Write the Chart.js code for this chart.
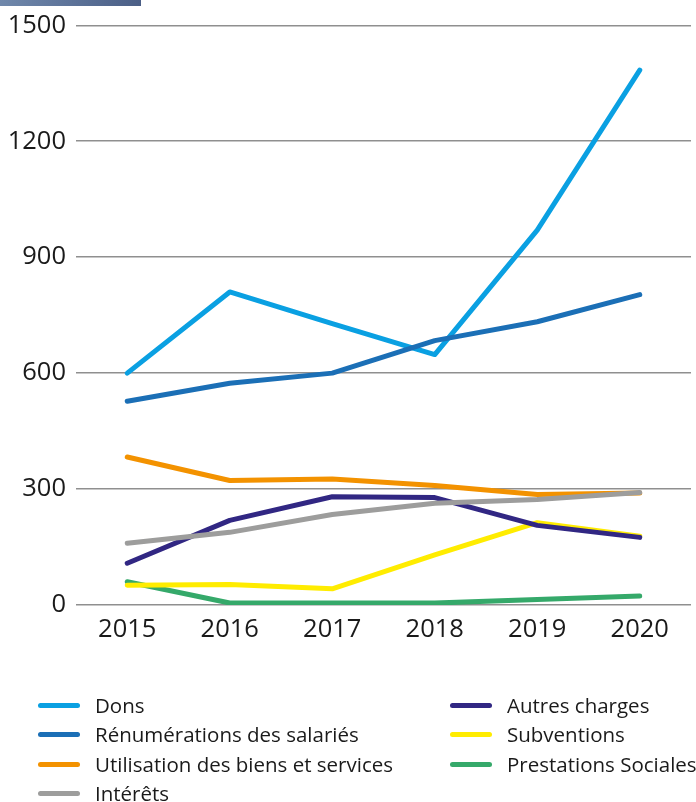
<!DOCTYPE html>
<html>
<head>
<meta charset="utf-8">
<script src="https://cdn.jsdelivr.net/npm/chart.js@4/dist/chart.umd.min.js"></script>
<style>
  html, body { margin: 0; padding: 0; background: #fff; }
  #wrap { position: relative; width: 696px; height: 802px; overflow: hidden; }
  #topbar { position: absolute; left: 0; top: 0; width: 141px; height: 6px;
            background: linear-gradient(90deg, #7088ab 0%, #5d7399 50%, #4b5f86 100%); z-index: 2; }
  #chartBox { position: absolute; left: 0; top: 0; width: 696px; height: 655px; }
  #legend { position: absolute; left: 0; top: 0; width: 696px; height: 802px; pointer-events: none;
            font-family: "Open Sans", "Noto Sans", sans-serif; font-size: 20.5px; color: #1a1a1a; }
  .li { position: absolute; display: flex; align-items: center; white-space: nowrap; }
  .sw { display: inline-block; width: 42px; height: 5px; border-radius: 3px; margin-right: 15px; }
</style>
</head>
<body>
<div id="wrap">
  <div id="chartBox"><canvas id="c" width="696" height="655"></canvas></div>
  <div id="topbar"></div>
  <div id="legend"></div>
</div>
<script>
const years = ["2015", "2016", "2017", "2018", "2019", "2020"];
const yTicks = [0, 300, 600, 900, 1200, 1500];

const seriesNames = [
  "Dons",
  "Rénumérations des salariés",
  "Utilisation des biens et services",
  "Intérêts",
  "Autres charges",
  "Subventions",
  "Prestations Sociales"
];

const dons          = [600, 810, 728, 648, 970, 1384];
const remunerations = [527, 574, 600, 684, 733, 803];
const utilisation   = [383, 322, 326, 309, 286, 290];
const interets      = [160, 188, 234, 263, 273, 291];
const autresCharges = [108, 219, 280, 278, 206, 175];
const subventions   = [51, 53, 42, 130, 213, 178];
const prestations   = [60, 5, 5, 5, 14, 23];

const seriesValues = [dons, remunerations, utilisation, interets, autresCharges, subventions, prestations];
const seriesColors = ["#0aa0e2", "#1b6fb6", "#f39200", "#9d9d9c", "#312783", "#ffec00", "#35a96a"];
const drawOrder    = [2, 1, 4, 3, 5, 6, 7];

const datasets = seriesNames.map((n, i) => ({
  label: n,
  data: seriesValues[i],
  borderColor: seriesColors[i],
  backgroundColor: seriesColors[i],
  borderWidth: 5,
  pointRadius: 0,
  tension: 0,
  fill: false,
  borderCapStyle: "round",
  borderJoinStyle: "round",
  order: drawOrder[i]
}));

const FONT = "'Open Sans', 'Noto Sans', sans-serif";

new Chart(document.getElementById("c"), {
  type: "line",
  data: { labels: years, datasets },
  options: {
    responsive: false,
    animation: false,
    events: [],
    layout: { padding: { top: 20, right: 5, left: 0, bottom: 0 } },
    plugins: { legend: { display: false }, tooltip: { enabled: false } },
    scales: {
      x: {
        offset: true,
        grid: { display: false, drawTicks: false },
        border: { display: false },
        ticks: { color: "#1a1a1a", padding: 9, font: { family: FONT, size: 25.5 } },
        afterFit: s => { s.height = 50; }
      },
      y: {
        min: 0, max: 1500,
        afterBuildTicks: s => { s.ticks = yTicks.map(v => ({ value: v })); },
        grid: { color: "#8f8f8f", lineWidth: 1.5, drawTicks: false },
        border: { display: false },
        ticks: { color: "#1a1a1a", padding: 10, font: { family: FONT, size: 25.5 },
                 callback: v => String(v) },
        afterFit: s => { s.width = 76; }
      }
    }
  }
});

// HTML legend in two columns, built from the series arrays
const legend = document.getElementById("legend");
const leftIdx = [0, 1, 2, 3], rightIdx = [4, 5, 6];
const rowY = [705, 734, 764, 793];
function addItem(i, x, y) {
  const d = document.createElement("div");
  d.className = "li";
  d.style.left = x + "px";
  d.style.top = (y - 14) + "px";
  d.style.height = "28px";
  const sw = document.createElement("span");
  sw.className = "sw";
  sw.style.background = seriesColors[i];
  const t = document.createElement("span");
  t.textContent = seriesNames[i];
  d.appendChild(sw); d.appendChild(t);
  legend.appendChild(d);
}
leftIdx.forEach((i, r) => addItem(i, 38, rowY[r]));
rightIdx.forEach((i, r) => addItem(i, 450, rowY[r]));
</script>
</body>
</html>
